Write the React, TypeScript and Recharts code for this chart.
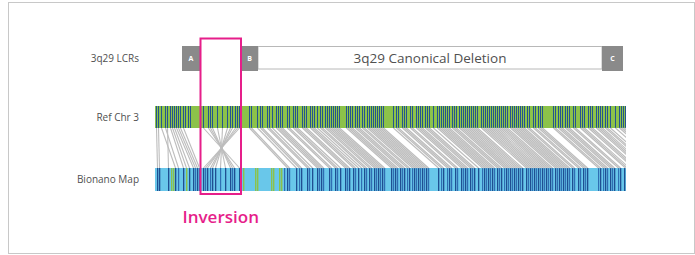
import React from 'react';
import { ComposedChart, XAxis, YAxis, ReferenceArea, ReferenceLine } from 'recharts';

// Genomic position units (track spans 155..626)
const TRACK_START = 155;
const TRACK_END = 626;

// Row labels and their vertical centres
const ROW_TICKS = [58.5, 117, 179];
const ROW_LABELS = ['3q29 LCRs', 'Ref Chr 3', 'Bionano Map'];

// LCR blocks: [start, end, label]
const LCRS: [number, number, string][] = [
  [182, 200, 'A'],
  [241, 258, 'B'],
  [602, 623, 'C'],
];
const DELETION = { start: 258, end: 602, label: '3q29 Canonical Deletion' };
const INVERSION = { start: 200.5, end: 241, label: 'Inversion' };

// Reference chromosome label positions (dark stripes)
const REF_STRIPES = [
  156, 158, 161, 165, 167, 170, 172, 174, 176, 178, 180, 183, 185, 188, 190,
  203, 208, 210, 212, 217, 222, 227, 230, 232, 235, 237, 239,
  249, 251, 257, 260, 262, 267, 269, 272, 276, 278, 280, 282, 287, 289, 293, 295, 297,
  302, 304, 306, 310, 312, 314, 317, 320, 322, 325, 327, 329, 331, 333, 335, 337, 339,
  346, 348, 350, 352, 355, 357, 359, 362, 364, 367, 369, 371, 373, 375, 377, 379, 381, 383,
  393, 396, 398, 402, 404, 406, 410, 412, 416, 418, 420, 422, 425, 427, 429, 433, 437, 439,
  441, 443, 445, 447, 449, 452, 454, 456, 459, 461, 463, 465, 467, 469, 471, 473, 475, 477,
  481, 483, 485, 487, 489, 491, 493, 495, 497, 499, 501, 503, 505, 507, 510, 512, 514, 516,
  518, 520, 522, 524, 527, 529, 533, 535, 538, 540, 542,
  553, 555, 558, 560, 562, 565, 567, 569, 573, 575, 580, 582, 584, 588, 590, 592, 596, 598,
  600, 602, 605, 607, 610, 615, 619, 621, 623, 625,
];

// Alignment pairs: [ref position, map position]
const ALIGN: [number, number][] = [
  [156, 157], [158, 159], [161, 175], [165, 178], [167, 168], [170, 183], [172, 186], [174, 189],
  [176, 193], [178, 195], [180, 197], [183, 199],
  [203, 239], [208, 234], [210, 232], [212, 230], [217, 225], [222, 220], [227, 215], [230, 212],
  [232, 210], [235, 207], [237, 205], [239, 203],
  [249, 287], [251, 289], [257, 296], [260, 299], [262, 301], [267, 307], [269, 309], [272, 312],
  [276, 317], [278, 319], [280, 321], [282, 323], [287, 329], [289, 331], [293, 335], [295, 337],
  [297, 340], [302, 345], [304, 347], [306, 349], [310, 353], [312, 355], [314, 358], [317, 361],
  [320, 364], [322, 366], [325, 369], [327, 371], [329, 374], [331, 376], [333, 378], [335, 380],
  [337, 382], [339, 384], [346, 391], [348, 393], [350, 395], [352, 397], [355, 400], [357, 402],
  [359, 404], [362, 407], [364, 409], [367, 412], [369, 414], [371, 416], [373, 418], [375, 420],
  [377, 422], [379, 424], [381, 426], [383, 428], [393, 438], [396, 441], [398, 443], [402, 447],
  [404, 449], [406, 451], [410, 455], [412, 457], [416, 461], [418, 463], [420, 465], [422, 467],
  [425, 470], [427, 472], [429, 474], [433, 478], [437, 482], [439, 484], [441, 486], [443, 488],
  [445, 490], [447, 492], [449, 494], [452, 497], [454, 499], [456, 501], [459, 504], [461, 506],
  [463, 508], [465, 510], [467, 512], [469, 514], [471, 516], [473, 518], [475, 520], [477, 522],
  [481, 526], [483, 528], [485, 530], [487, 532], [489, 534], [491, 536], [493, 538], [495, 540],
  [497, 542], [499, 544], [501, 546], [503, 548], [505, 550], [507, 552], [510, 555], [512, 557],
  [514, 559], [516, 561], [518, 563], [520, 565], [522, 567], [524, 569], [527, 572], [529, 574],
  [533, 578], [535, 580], [538, 583], [540, 585], [542, 587], [553, 598], [555, 600], [558, 603],
  [560, 605], [562, 607], [565, 610], [567, 612], [569, 614], [573, 618], [575, 620], [580, 625],
  [582, 627], [584, 629], [588, 633], [590, 635], [592, 637], [596, 641], [598, 643], [600, 645],
  [602, 647], [605, 650], [607, 652], [610, 655], [615, 660], [619, 664], [621, 666], [623, 668],
  [625, 670],
];

// Bionano map label positions
const MAP_DARK = [
  157, 159, 168, 175, 183, 189, 193, 197,
  203, 207, 212, 215, 225, 230, 234, 239,
  287, 296, 301, 307, 312, 317, 321, 329, 335, 340,
  345, 349, 353, 358, 364, 369, 374, 378, 382,
  391, 395, 400, 404, 409, 414, 418, 422, 426,
  438, 443, 449, 455, 461, 465, 470, 474, 478, 484,
  488, 492, 497, 501, 506, 510, 514, 518, 522,
  526, 530, 534, 538, 542, 546, 550, 555, 559,
  563, 567, 572, 578, 583, 587, 600, 605, 610,
  614, 620, 624,
];
const MAP_MID = [
  178, 195, 199, 205, 210, 220, 232, 284, 289, 299, 309, 319, 323, 331, 337, 347, 355, 361,
  366, 371, 376, 380, 384, 393, 397, 402, 407, 412, 416, 420, 424, 428, 441, 447, 451, 457,
  463, 467, 472, 482, 486, 490, 494, 499, 504, 508, 512, 516, 520, 528, 532, 536, 540, 544,
  548, 552, 557, 561, 565, 569, 574, 580, 585, 598, 603, 607, 612, 618,
];
const MAP_GREEN = [171, 173, 186, 243, 255, 257, 271, 273, 279, 281];

const C = {
  refGreen: '#8CC24A',
  dark: '#1F4F92',
  mid: '#2F6EB3',
  mapBlue: '#69C7EA',
  line: '#BDBDBD',
  box: '#8A8A8A',
  magenta: '#E61E8A',
  text: '#505050',
};

const FONT = "'Open Sans', 'DejaVu Sans', sans-serif";

const REF_Y = [106, 128];
const MAP_Y = [168, 191];

export default function App() {
  return (
    <div style={{ position: 'absolute', left: 0, top: 0, width: 695, height: 255, background: '#fff' }}>
      <div
        style={{
          position: 'absolute',
          left: 8,
          top: 2,
          width: 687,
          height: 252,
          boxSizing: 'border-box',
          border: '1px solid #C8C8C8',
        }}
      />
      <div style={{ position: 'absolute', left: 0, top: 0 }}>
        <ComposedChart
          width={695}
          height={255}
          data={[{ x: TRACK_START }, { x: TRACK_END }]}
          margin={{ top: 0, right: 695 - TRACK_END, bottom: 0, left: 0 }}
          style={{ fontFamily: FONT }}
        >
          <XAxis dataKey="x" type="number" domain={[TRACK_START, TRACK_END]} hide allowDataOverflow />
          <YAxis
            type="number"
            domain={[0, 255]}
            reversed
            ticks={ROW_TICKS}
            interval={0}
            tickFormatter={(v: number) => ROW_LABELS[ROW_TICKS.indexOf(v)] ?? ''}
            axisLine={false}
            tickLine={false}
            tickSize={0}
            tickMargin={16}
            width={TRACK_START}
            tick={{ fontSize: 10, fill: C.text, fontFamily: FONT, fontWeight: 500 }}
            allowDataOverflow
          />

          {/* LCR row */}
          <ReferenceArea
            x1={DELETION.start}
            x2={DELETION.end}
            y1={46.5}
            y2={69}
            fill="#fff"
            fillOpacity={1}
            stroke="#B8B8B8"
            strokeWidth={1}
            label={{ value: DELETION.label, position: 'center', fill: C.text, fontSize: 13.5, fontWeight: 500, fontFamily: FONT }}
            ifOverflow="visible"
          />
          {LCRS.map(([s, e, l]) => (
            <ReferenceArea
              key={l}
              x1={s}
              x2={e}
              y1={46}
              y2={71}
              fill={C.box}
              fillOpacity={1}
              stroke="none"
              label={{ value: l, position: 'center', fill: '#fff', fontSize: 7, fontWeight: 700, fontFamily: FONT }}
              ifOverflow="visible"
            />
          ))}

          {/* Reference chromosome track */}
          <ReferenceArea x1={TRACK_START} x2={TRACK_END} y1={REF_Y[0]} y2={REF_Y[1]} fill={C.refGreen} fillOpacity={1} stroke="none" />
          {REF_STRIPES.map((p, i) => (
            <ReferenceArea key={'r' + i} x1={p} x2={p + 1} y1={REF_Y[0]} y2={REF_Y[1]} fill={C.dark} fillOpacity={0.95} stroke="none" />
          ))}

          {/* Alignment lines */}
          {ALIGN.map(([r, m], i) => (
            <ReferenceLine
              key={'a' + i}
              segment={[{ x: r + 0.5, y: REF_Y[1] }, { x: m + 0.5, y: MAP_Y[0] }]}
              stroke={C.line}
              strokeWidth={1.1}
              ifOverflow="hidden"
            />
          ))}

          {/* Bionano map track */}
          <ReferenceArea x1={TRACK_START} x2={TRACK_END} y1={MAP_Y[0]} y2={MAP_Y[1]} fill={C.mapBlue} fillOpacity={1} stroke="none" />
          {MAP_GREEN.map((p, i) => (
            <ReferenceArea key={'g' + i} x1={p} x2={p + 1.4} y1={MAP_Y[0]} y2={MAP_Y[1]} fill={C.refGreen} fillOpacity={1} stroke="none" />
          ))}
          {MAP_MID.map((p, i) => (
            <ReferenceArea key={'mm' + i} x1={p} x2={p + 1.2} y1={MAP_Y[0]} y2={MAP_Y[1]} fill={C.mid} fillOpacity={1} stroke="none" />
          ))}
          {MAP_DARK.map((p, i) => (
            <ReferenceArea key={'md' + i} x1={p} x2={p + 1.3} y1={MAP_Y[0]} y2={MAP_Y[1]} fill={C.dark} fillOpacity={1} stroke="none" />
          ))}

          {/* Inversion highlight */}
          <ReferenceArea
            x1={INVERSION.start}
            x2={INVERSION.end}
            y1={38.5}
            y2={194}
            fill="none"
            fillOpacity={0}
            stroke={C.magenta}
            strokeWidth={2}
          />
          <ReferenceArea
            x1={INVERSION.start}
            x2={INVERSION.end}
            y1={205}
            y2={228}
            fill="none"
            fillOpacity={0}
            stroke="none"
            label={{ value: INVERSION.label, position: 'center', fill: C.magenta, fontSize: 17, fontWeight: 600, fontFamily: FONT }}
          />
        </ComposedChart>
      </div>
    </div>
  );
}
